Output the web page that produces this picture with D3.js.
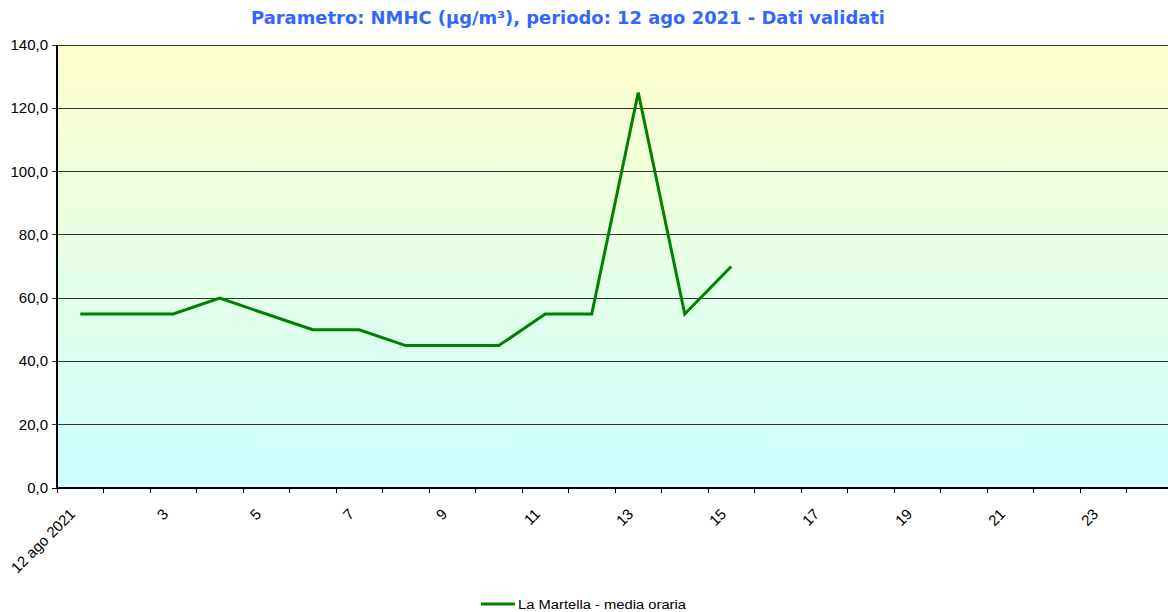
<!DOCTYPE html>
<html><head><meta charset="utf-8">
<script src="https://cdn.jsdelivr.net/npm/d3@7"></script>
<style>body{margin:0;background:#fff}svg{display:block}</style>
</head><body>
<svg id="c" width="1168" height="612"></svg>
<script>
const hours = d3.range(1, 25);
const values = [55, 55, 55, 60, 55, 50, 50, 45, 45, 45, 55, 55, 125, 55, 70];
const xLabels = ["12 ago 2021","3","5","7","9","11","13","15","17","19","21","23"];
const yTicks = [0, 20, 40, 60, 80, 100, 120, 140];
const title = "Parametro: NMHC (µg/m³), periodo: 12 ago 2021 - Dati validati";
const seriesName = "La Martella - media oraria";

const svg = d3.select("#c");
const m = {l: 57, r: 1168, t: 45, b: 488};
const x = d3.scaleBand().domain(hours).range([m.l, m.l + 24*46.5]);
const y = d3.scaleLinear().domain([0, 140]).range([m.b, m.t]);

const defs = svg.append("defs");
const g = defs.append("linearGradient").attr("id","bg").attr("x1",0).attr("y1",0).attr("x2",0).attr("y2",1);
g.append("stop").attr("offset","0%").attr("stop-color","#FFFFCC");
g.append("stop").attr("offset","100%").attr("stop-color","#CCFFFF");
svg.append("rect").attr("x",m.l).attr("y",m.t).attr("width",m.r-m.l).attr("height",m.b-m.t).attr("fill","url(#bg)");

// grid
svg.append("g").selectAll("line").data(yTicks).join("line")
  .attr("x1",m.l-5).attr("x2",m.r).attr("y1",d=>y(d)).attr("y2",d=>y(d))
  .attr("stroke",d=>d===0?"#000":"#333").attr("stroke-width",1).attr("shape-rendering","crispEdges");

// y labels
svg.append("g").selectAll("text").data(yTicks).join("text")
  .attr("x",m.l-9).attr("y",d=>y(d)+5).attr("text-anchor","end")
  .attr("font-family","Liberation Sans, Arial, sans-serif").attr("font-size",15).attr("fill","#000")
  .text(d=>d3.format(".1f")(d).replace(".",","));

// left axis
svg.append("line").attr("x1",m.l).attr("x2",m.l).attr("y1",m.t).attr("y2",m.b)
  .attr("stroke","#000").attr("stroke-width",1.5).attr("shape-rendering","crispEdges");
// bottom axis
svg.append("line").attr("x1",m.l).attr("x2",m.r).attr("y1",m.b).attr("y2",m.b)
  .attr("stroke","#000").attr("stroke-width",1.5).attr("shape-rendering","crispEdges");

// x ticks at boundaries
svg.append("g").selectAll("line").data(hours).join("line")
  .attr("x1",d=>x(d)).attr("x2",d=>x(d)).attr("y1",m.b).attr("y2",m.b+5)
  .attr("stroke","#000").attr("stroke-width",1).attr("shape-rendering","crispEdges");

// x labels
const labelHours = hours.filter(h=>h%2===1);
svg.append("g").selectAll("text").data(labelHours).join("text")
  .attr("transform",(d)=>`translate(${x(d)+x.bandwidth()/2-4},${m.b+27}) rotate(-45)`)
  .attr("text-anchor","end")
  .attr("font-family","Liberation Sans, Arial, sans-serif").attr("font-size",15).attr("fill","#000")
  .text((d,i)=>xLabels[i]);

// line
const line = d3.line().x((d,i)=>x(hours[i])+x.bandwidth()/2).y(d=>y(d));
svg.append("path").datum(values).attr("d",line).attr("fill","none")
  .attr("stroke","#008000").attr("stroke-width",3).attr("stroke-linejoin","miter");

// title
svg.append("text").attr("x",568).attr("y",24).attr("text-anchor","middle")
  .attr("font-family","DejaVu Sans, Verdana, sans-serif").attr("font-weight","bold").attr("font-size",17)
  .attr("fill","#3366FF").attr("textLength",634).attr("lengthAdjust","spacingAndGlyphs").text(title);

// legend
svg.append("line").attr("x1",481).attr("x2",515).attr("y1",604).attr("y2",604)
  .attr("stroke","#008000").attr("stroke-width",3);
svg.append("text").attr("x",518).attr("y",609)
  .attr("font-family","Liberation Sans, Arial, sans-serif").attr("font-size",12.5).attr("fill","#000")
  .attr("textLength",168).attr("lengthAdjust","spacingAndGlyphs").text(seriesName);
</script>
</body></html>
